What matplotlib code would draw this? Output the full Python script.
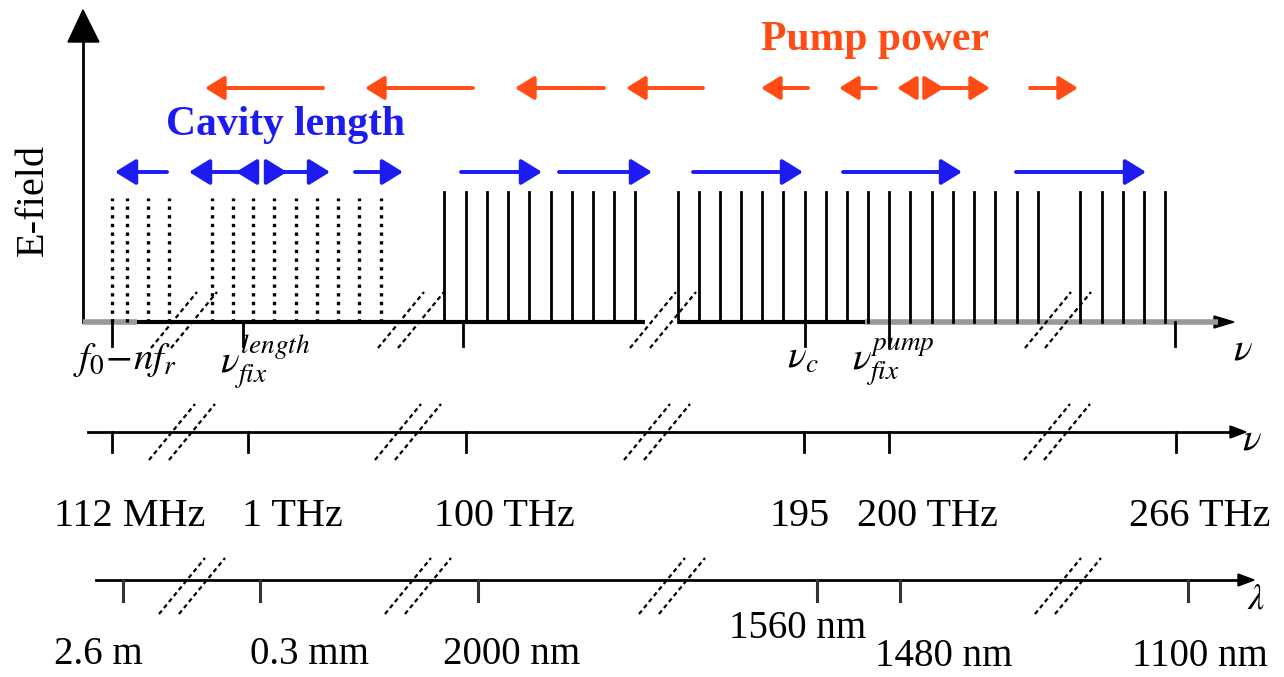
import numpy as np
import matplotlib
matplotlib.use("Agg")
import matplotlib.pyplot as plt

plt.rcParams['font.family'] = ['Liberation Serif', 'DejaVu Serif']
plt.rcParams['mathtext.fontset'] = 'stix'

# schematic coordinates (pixel-like units of the drawing)
comb_dotted = [112, 127, 148, 169, 212, 233, 253, 274, 296, 317, 338, 359, 381]
comb_a = [444, 466, 487, 508, 529, 551, 572, 593, 614, 635]
comb_b = [678, 699, 720, 741, 762, 783, 805, 826, 847, 868, 889, 910, 932, 953,
          974, 995, 1017, 1038]
comb_c = [1080, 1102, 1123, 1144, 1165]

# (tail, head) of the tuning arrows
cavity_arrows = [(167, 115), (252, 189), (252, 236), (270, 287), (270, 330),
                 (355, 403), (461, 542), (559, 652), (693, 803), (843, 962),
                 (1016, 1146)]
pump_arrows = [(323, 205), (473, 365), (604, 515), (703, 626), (808, 761),
               (876, 839), (914, 897), (928, 944), (928, 990), (1030, 1078)]

nu_ticks_top = [112, 243, 463, 805, 889, 1175]
nu_ticks_mid = [112, 248, 466, 804, 889, 1176]
lam_ticks = [123, 260, 478, 817, 900, 1188]

freq_labels = ['112 MHz', '1 THz', '100 THz', '195', '200 THz', '266 THz']
freq_label_x = [130, 292, 504, 800, 927, 1200]
wl_labels = ['2.6 m', '0.3 mm', '2000 nm', '1560 nm', '1480 nm', '1100 nm']
wl_label_x = [98, 310, 512, 798, 944, 1200]
wl_label_y = [655, 655, 655, 628, 656, 656]

breaks_top = [184, 411, 663, 1058]
breaks_mid = [182, 408, 657, 1057]
breaks_bot = [192, 418, 672, 1068]

BLUE = '#1c1cf2'
ORANGE = '#ff4c14'

fig = plt.figure(figsize=(12.84, 6.77), dpi=100)
ax = fig.add_axes([0, 0, 1, 1])
ax.set_xlim(0, 1284)
ax.set_ylim(677, 0)
ax.axis('off')

y0, y1, y2 = 322, 432, 580

# vertical E-field axis
ax.plot([83, 83], [y0, 40], color='black', lw=2)
ax.fill([68, 83, 99], [42, 10, 42], color='black')
ax.text(33, 200, 'E-field', rotation=90, ha='center', va='center', fontsize=29)

# top frequency axis
ax.plot([83, 137], [y0, y0], color='#999999', lw=4, solid_capstyle='butt')
ax.plot([865, 1218], [y0, y0], color='#999999', lw=4, solid_capstyle='butt')
ax.plot([137, 645], [y0, y0], color='black', lw=3, solid_capstyle='butt')
ax.plot([678, 865], [y0, y0], color='black', lw=3, solid_capstyle='butt')
ax.fill([1214, 1234, 1214], [y0 - 6, y0, y0 + 6], color='black')

# comb lines
for x in comb_dotted:
    ax.plot([x, x], [y0, 198], color='black', lw=2.4, linestyle=(0, (1, 1.6)))
for grp in (comb_a, comb_b, comb_c):
    for x in grp:
        ax.plot([x, x], [y0, 192], color='black', lw=2)

# middle and bottom axes
ax.plot([88, 1236], [y1, y1], color='black', lw=2)
ax.fill([1230, 1246, 1230], [y1 - 6, y1, y1 + 6], color='black')
ax.plot([96, 1244], [y2, y2], color='black', lw=2)
ax.fill([1238, 1254, 1238], [y2 - 6, y2, y2 + 6], color='black')

for x in nu_ticks_top:
    ax.plot([x, x], [y0, y0 + 24], color='black', lw=2)
for x in nu_ticks_mid:
    ax.plot([x, x], [y1, y1 + 20], color='black', lw=2)
for x in lam_ticks:
    ax.plot([x, x], [y2, y2 + 21], color='#333333', lw=2.2)


def draw_break(cx, yc):
    for off in (-10, 10):
        c = cx + off
        ax.plot([c - 23, c + 23], [yc + 28, yc - 28], color='black', lw=1.6,
                linestyle=(0, (2, 1.5)))


for cx in breaks_top:
    draw_break(cx, y0 - 2)
for cx in breaks_mid:
    draw_break(cx, y1)
for cx in breaks_bot:
    draw_break(cx, y2 + 6)

# tuning arrows
for tail, head in cavity_arrows:
    ax.annotate('', xy=(head, 172), xytext=(tail, 172),
                arrowprops=dict(arrowstyle='-|>,head_length=0.55,head_width=0.34',
                                color=BLUE, lw=2.8, mutation_scale=23,
                                shrinkA=0, shrinkB=0))
for tail, head in pump_arrows:
    ax.annotate('', xy=(head, 88), xytext=(tail, 88),
                arrowprops=dict(arrowstyle='-|>,head_length=0.55,head_width=0.34',
                                color=ORANGE, lw=2.8, mutation_scale=21,
                                shrinkA=0, shrinkB=0))

ax.text(286, 125, 'Cavity length', color=BLUE, fontsize=30, fontweight='bold',
        ha='center', va='center')
ax.text(875, 40, 'Pump power', color=ORANGE, fontsize=30, fontweight='bold',
        ha='center', va='center')

# symbols on the top axis
ax.text(125, 360, r'$f_0\!-\!nf_r$', fontsize=28, ha='center', va='center')
ax.text(265, 362, r'$\nu_{fix}^{length}$', fontsize=28, ha='center', va='center')
ax.text(803, 358, r'$\nu_c$', fontsize=28, ha='center', va='center')
ax.text(893, 362, r'$\nu_{fix}^{pump}$', fontsize=28, ha='center', va='center')
ax.text(1243, 350, r'$\nu$', fontsize=28, ha='center', va='center')
ax.text(1252, 440, r'$\nu$', fontsize=28, ha='center', va='center')
ax.text(1256, 600, r'$\lambda$', fontsize=26, ha='center', va='center')

for lab, x in zip(freq_labels, freq_label_x):
    ax.text(x, 517, lab, fontsize=29, ha='center', va='center')
for lab, x, y in zip(wl_labels, wl_label_x, wl_label_y):
    ax.text(x, y, lab, fontsize=28, ha='center', va='center')

fig.savefig('out.png', dpi=100)
